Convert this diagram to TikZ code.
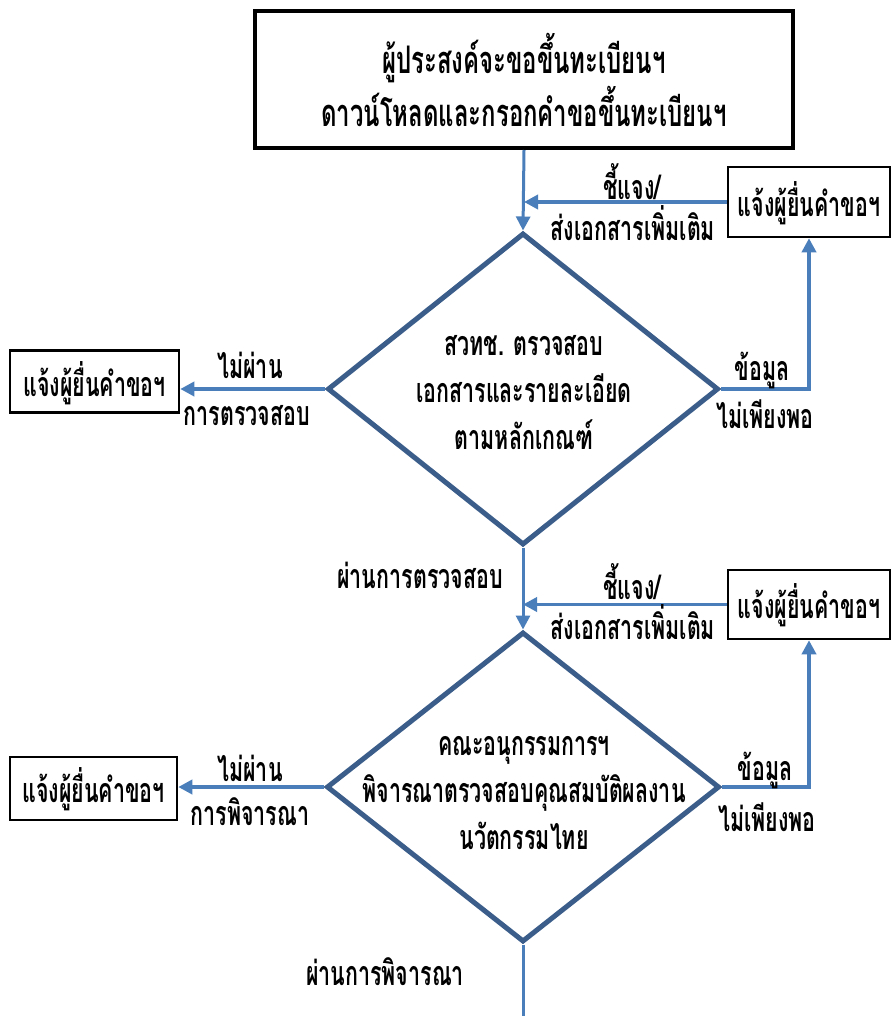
\documentclass[tikz,border=0pt]{standalone}
\usepackage{fontspec}
\newfontfamily\thai[Script=Thai,FakeStretch=0.63]{Loma}
\usetikzlibrary{arrows.meta,shapes.geometric}
\definecolor{arrowblue}{HTML}{4A7EBB}
\definecolor{diablue}{HTML}{3A5D8A}
\begin{document}
\begin{tikzpicture}[x=1pt,y=-1pt,
  lbl/.style={font=\thai\bfseries\fontsize{34}{47}\selectfont, inner sep=0pt, align=center, text=black},
  toplbl/.style={font=\thai\bfseries\fontsize{38}{53}\selectfont, inner sep=0pt, align=center, text=black},
  bigbox/.style={draw=black, line width=4pt, minimum width=538pt, minimum height=137pt, inner sep=0pt},
  smallbox/.style={draw=black, line width=2.5pt, inner sep=0pt},
  decision/.style={diamond, draw=diablue, line width=5pt, inner sep=0pt},
  flow/.style={draw=arrowblue, line width=3.5pt, -{Triangle[length=14pt,width=14pt]}},
  plain/.style={draw=arrowblue, line width=3.5pt}]
\useasboundingbox (0,0) rectangle (893,1016);
\fill[white] (0,0) rectangle (893,1016);

% top box
\node[bigbox] (top) at (524,79.5) {};
\node[toplbl] (toptxt) at (524,80) {ผู้ประสงค์จะขอขึ้นทะเบียนฯ\\ดาวน์โหลดและกรอกคำขอขึ้นทะเบียนฯ};

% diamonds
\node[decision, minimum width=391pt, minimum height=312pt] (d1) at (523,389) {};
\node[lbl] (d1txt) at (524,393) {สวทช. ตรวจสอบ\\เอกสารและรายละเอียด\\ตามหลักเกณฑ์};
\node[decision, minimum width=393pt, minimum height=310pt] (d2) at (523,787) {};
\node[lbl] (d2txt) at (524,793) {คณะอนุกรรมการฯ\\พิจารณาตรวจสอบคุณสมบัติผลงาน\\นวัตกรรมไทย};

% side boxes
\node[smallbox, minimum width=162pt, minimum height=70pt] (rb1) at (809,202) {};
\node[lbl] (rb1txt) at (809,203) {แจ้งผู้ยื่นคำขอฯ};
\node[smallbox, minimum width=162pt, minimum height=69pt] (rb2) at (809,604.5) {};
\node[lbl] (rb2txt) at (809,605) {แจ้งผู้ยื่นคำขอฯ};
\node[smallbox, minimum width=169pt, minimum height=62pt] (lb1) at (94.5,381.5) {};
\node[lbl] (lb1txt) at (94.5,383) {แจ้งผู้ยื่นคำขอฯ};
\node[smallbox, minimum width=167pt, minimum height=63pt] (lb2) at (93.5,788.5) {};
\node[lbl] (lb2txt) at (93.5,789) {แจ้งผู้ยื่นคำขอฯ};

\coordinate (end) at (523,1016);

% connectors
\draw[flow, line width=3pt] (top.south) -- (d1.north);
\draw[flow] (rb1.west) -- (rb1.west -| top.south);
\draw[flow] (d1.east) -| (rb1.south);
\draw[flow] (d1.west) -- (d1.west -| lb1.east);
\draw[flow, line width=3pt] (d1.south) -- (d2.north);
\draw[flow] (rb2.west) -- (rb2.west -| d1.south);
\draw[flow] (d2.east) -| (rb2.south);
\draw[flow] (d2.west) -- (d2.west -| lb2.east);
\draw[plain, line width=3pt] (d2.south) -- (end);

% labels
\node[lbl] (l1a) at (632,182) {ชี้แจง/};
\node[lbl] (l1b) at (633,223) {ส่งเอกสารเพิ่มเติม};
\node[lbl] (l2a) at (250,365) {ไม่ผ่าน};
\node[lbl] (l2b) at (247,416) {การตรวจสอบ};
\node[lbl] (l3a) at (762,370) {ข้อมูล};
\node[lbl] (l3b) at (765,414) {ไม่เพียงพอ};
\node[lbl] (l4) at (420,575) {ผ่านการตรวจสอบ};
\node[lbl] (l5a) at (632,582) {ชี้แจง/};
\node[lbl] (l5b) at (633,622) {ส่งเอกสารเพิ่มเติม};
\node[lbl] (l6a) at (250,768) {ไม่ผ่าน};
\node[lbl] (l6b) at (250,812) {การพิจารณา};
\node[lbl] (l7a) at (765,770) {ข้อมูล};
\node[lbl] (l7b) at (767,817) {ไม่เพียงพอ};
\node[lbl] (l8) at (385,972) {ผ่านการพิจารณา};
\end{tikzpicture}
\end{document}
